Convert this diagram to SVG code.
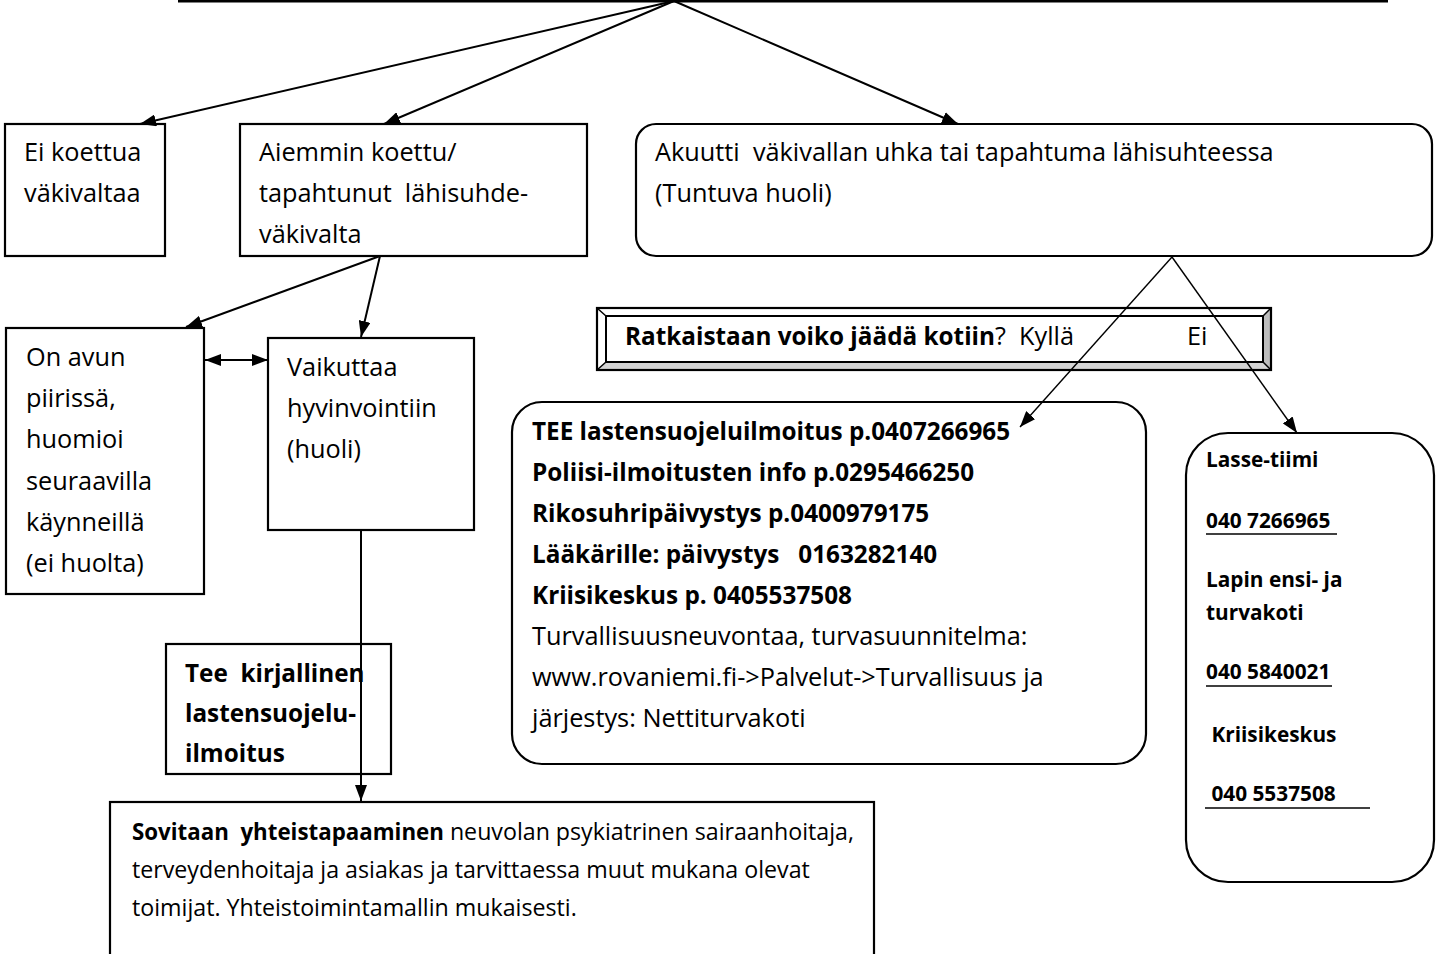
<svg xmlns="http://www.w3.org/2000/svg" width="1438" height="954" viewBox="0 0 1438 954">
<style>
.box{fill:#fff;stroke:#000;stroke-width:2.2}
.t{font-family:"Open Sans","Liberation Sans",sans-serif;font-size:25.3px;fill:#000}
.b{font-weight:bold;font-size:24.3px}
.s{font-size:23.2px}
.sb{font-weight:bold;font-size:22.3px}
.l{font-family:"Open Sans","Liberation Sans",sans-serif;font-weight:bold;font-size:20.8px;fill:#000}
.c{fill:none;stroke:#000;stroke-width:2}
.ct{fill:none;stroke:#000;stroke-width:1.4}
.ul{stroke:#000;stroke-width:1.6}
</style>
<defs>
<marker id="ah" viewBox="0 0 16 12" refX="16" refY="6" markerWidth="16" markerHeight="12" orient="auto-start-reverse" markerUnits="userSpaceOnUse"><path d="M0,0 L16,6 L0,12 z" fill="#000"/></marker>
</defs>
<rect width="1438" height="954" fill="#fff"/>

<g id="top-box"><line x1="178" y1="1.2" x2="1388" y2="1.2" stroke="#000" stroke-width="2.4"/></g>

<g id="ei-koettua">
<rect class="box" x="5" y="124" width="160" height="132"/>
<text class="t" x="24" y="161">Ei koettua</text>
<text class="t" x="24" y="202">väkivaltaa</text>
</g>

<g id="aiemmin">
<rect class="box" x="240" y="124" width="347" height="132"/>
<text class="t" x="259" y="161">Aiemmin koettu/</text>
<text class="t" x="259" y="202" xml:space="preserve">tapahtunut  lähisuhde-</text>
<text class="t" x="259" y="243">väkivalta</text>
</g>

<g id="akuutti">
<rect class="box" x="636" y="124" width="796" height="132" rx="20" ry="20"/>
<text class="t" x="655" y="161" xml:space="preserve">Akuutti  väkivallan uhka tai tapahtuma lähisuhteessa</text>
<text class="t" x="655" y="202">(Tuntuva huoli)</text>
</g>

<g id="on-avun">
<rect class="box" x="6" y="328" width="198" height="266"/>
<text class="t" x="26" y="366">On avun</text>
<text class="t" x="26" y="407">piirissä,</text>
<text class="t" x="26" y="448">huomioi</text>
<text class="t" x="26" y="490">seuraavilla</text>
<text class="t" x="26" y="531">käynneillä</text>
<text class="t" x="26" y="572">(ei huolta)</text>
</g>

<g id="vaikuttaa">
<rect class="box" x="268" y="338" width="206" height="192"/>
<text class="t" x="287" y="376">Vaikuttaa</text>
<text class="t" x="287" y="417">hyvinvointiin</text>
<text class="t" x="287" y="458">(huoli)</text>
</g>

<g id="ratkaistaan">
<rect x="597" y="308" width="674" height="62" fill="#fff"/>
<polygon points="1263,316 1271,308 1271,370 1263,362" fill="#bdbdbd"/>
<polygon points="606,362 1263,362 1271,370 597,370" fill="#d4d4d4"/>
<rect x="606" y="316" width="657" height="46" fill="#fff" stroke="#000" stroke-width="2"/>
<path d="M597,308 L606,316 M1271,308 L1263,316 M597,370 L606,362 M1271,370 L1263,362" stroke="#000" stroke-width="1.5"/>
<rect x="597" y="308" width="674" height="62" fill="none" stroke="#000" stroke-width="2.2"/>
<text class="t" x="625" y="345" xml:space="preserve"><tspan class="b">Ratkaistaan voiko jäädä kotiin</tspan>?  Kyllä</text>
<text class="t" x="1187" y="345">Ei</text>
</g>

<g id="tee-ilmoitus">
<rect class="box" x="512" y="402" width="634" height="362" rx="30" ry="30"/>
<text class="t b" x="532" y="440">TEE lastensuojeluilmoitus p.0407266965</text>
<text class="t b" x="532" y="481">Poliisi-ilmoitusten info p.0295466250</text>
<text class="t b" x="532" y="522">Rikosuhripäivystys p.0400979175</text>
<text class="t b" x="532" y="563" xml:space="preserve">Lääkärille: päivystys   0163282140</text>
<text class="t b" x="532" y="604">Kriisikeskus p. 0405537508</text>
<text class="t" x="532" y="645">Turvallisuusneuvontaa, turvasuunnitelma:</text>
<text class="t" x="532" y="686">www.rovaniemi.fi-&gt;Palvelut-&gt;Turvallisuus ja</text>
<text class="t" x="532" y="727">järjestys: Nettiturvakoti</text>
</g>

<g id="lasse">
<rect class="box" x="1186" y="433" width="248" height="449" rx="42" ry="42"/>
<text class="l" x="1206" y="467">Lasse-tiimi</text>
<text class="l" x="1206" y="528" xml:space="preserve">040 7266965 </text>
<line class="ul" x1="1206" y1="534" x2="1337" y2="534"/>
<text class="l" x="1206" y="587">Lapin ensi- ja</text>
<text class="l" x="1206" y="620">turvakoti</text>
<text class="l" x="1206" y="679">040 5840021</text>
<line class="ul" x1="1206" y1="686" x2="1332" y2="686"/>
<text class="l" x="1206" y="742" xml:space="preserve"> Kriisikeskus</text>
<text class="l" x="1206" y="801" xml:space="preserve"> 040 5537508   </text>
<line class="ul" x1="1205" y1="808" x2="1370" y2="808"/>
</g>

<g id="tee-kirjallinen">
<rect class="box" x="166" y="644" width="225" height="130"/>
<text class="t b" x="185" y="682" xml:space="preserve">Tee  kirjallinen</text>
<text class="t b" x="185" y="722">lastensuojelu-</text>
<text class="t b" x="185" y="762">ilmoitus</text>
</g>

<g id="sovitaan">
<rect class="box" x="110" y="802" width="764" height="170"/>
<text class="t s" x="132" y="840" xml:space="preserve"><tspan class="sb">Sovitaan  yhteistapaaminen</tspan> neuvolan psykiatrinen sairaanhoitaja,</text>
<text class="t s" x="132" y="878">terveydenhoitaja ja asiakas ja tarvittaessa muut mukana olevat</text>
<text class="t s" x="132" y="916">toimijat. Yhteistoimintamallin mukaisesti.</text>
</g>

<g id="connectors">
<line class="c" x1="674" y1="1" x2="140" y2="124" marker-end="url(#ah)"/>
<line class="c" x1="674" y1="1" x2="384" y2="124" marker-end="url(#ah)"/>
<line class="c" x1="674" y1="1" x2="958" y2="124" marker-end="url(#ah)"/>
<line class="c" x1="380" y1="256" x2="186" y2="327" marker-end="url(#ah)"/>
<line class="c" x1="380" y1="256" x2="361" y2="337" marker-end="url(#ah)"/>
<line class="c" x1="205" y1="360" x2="268" y2="360" marker-start="url(#ah)" marker-end="url(#ah)"/>
<line class="c" x1="361" y1="530" x2="361" y2="801" marker-end="url(#ah)"/>
<line class="ct" x1="1172" y1="257" x2="1020" y2="427" marker-end="url(#ah)"/>
<line class="ct" x1="1172" y1="257" x2="1297" y2="433" marker-end="url(#ah)"/>
</g>
</svg>
